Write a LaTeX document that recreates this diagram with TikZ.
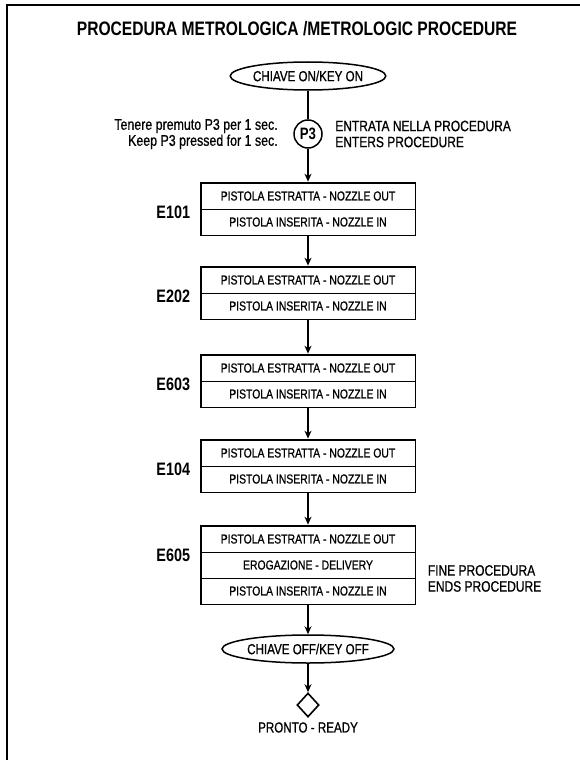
\documentclass[tikz,border=0pt]{standalone}
\usepackage{fontspec}
\setmainfont[FakeStretch=0.8]{Liberation Sans}
\newfontfamily\medfont[FakeStretch=0.8,FakeBold=0.8]{Liberation Sans}
\usetikzlibrary{arrows.meta,positioning,shapes.geometric,fit}

\begin{document}
\begin{tikzpicture}[x=1pt,y=-1pt,
    row/.style={draw,line width=0.9pt,minimum width=214pt,minimum height=26pt,inner sep=0pt,
                font=\medfont\fontsize{13}{14}\selectfont},
    boxframe/.style={draw,line width=1.8pt,inner sep=0pt},
    keynode/.style={ellipse,draw,line width=1.5pt,minimum width=154pt,minimum height=28pt,
                    inner sep=0pt,font=\medfont\fontsize{14.5}{16}\selectfont},
    elabel/.style={anchor=east,font=\bfseries\fontsize{18}{20}\selectfont},
    note/.style={font=\medfont\fontsize{15}{16}\selectfont},
    flow/.style={-{Stealth[length=8pt,width=7pt]},line width=1.5pt}]
  \useasboundingbox (0,0) rectangle (580,760);
  % frame of the page
  \draw[line width=2pt] (7,760) -- (7,5) -- (580,5);

  \node[font=\bfseries\fontsize{19.5}{22}\selectfont] (title) at (297,29)
    {PROCEDURA METROLOGICA /METROLOGIC PROCEDURE};

  \node[keynode] (keyon) at (308,76) {CHIAVE ON/KEY ON};
  \node[circle,draw,line width=1.5pt,minimum size=28pt,inner sep=0pt,
        font=\bfseries\fontsize{16.5}{18}\selectfont] (p3) at (308,134) {P3};
  \node[note,align=right,anchor=east,font=\medfont\fontsize{15.5}{16}\selectfont] (hold)
    at ([xshift=-12pt]p3.west) {Tenere premuto P3 per 1 sec.\\Keep P3 pressed for 1 sec.};
  \node[note,align=left,anchor=west] (enter) at ([xshift=9pt]p3.east)
    {ENTRATA NELLA PROCEDURA\\ENTERS PROCEDURE};

  % the four nozzle out / nozzle in checks
  \foreach \lab/\top [count=\i] in {E101/183,E202/267,E603/355,E104/440} {
    \node[row] (out\i) at (308,\top+13) {PISTOLA ESTRATTA - NOZZLE OUT};
    \node[row] (in\i) at (308,\top+39) {PISTOLA INSERITA - NOZZLE IN};
    \node[boxframe,fit=(out\i)(in\i)] (box\i) {};
    \node[elabel] (lab\i) at ([xshift=-6pt,yshift=-3pt]box\i.west |- out\i.south) {\lab};
  }

  % last check, with delivery
  \node[row] (out5) at (308,539) {PISTOLA ESTRATTA - NOZZLE OUT};
  \node[row] (del5) at (308,565) {EROGAZIONE - DELIVERY};
  \node[row] (in5) at (308,591) {PISTOLA INSERITA - NOZZLE IN};
  \node[boxframe,fit=(out5)(del5)(in5)] (box5) {};
  \node[elabel] (lab5) at ([xshift=-6pt,yshift=-3pt]box5.west |- out5.south) {E605};
  \node[note,align=left,anchor=west] (fine) at ([xshift=8pt]box5.east |- del5.south)
    {FINE PROCEDURA\\ENDS PROCEDURE};

  \node[keynode] (keyoff) at (308,649) {CHIAVE OFF/KEY OFF};
  \node[diamond,draw,line width=1.6pt,minimum width=22pt,minimum height=24pt,inner sep=0pt]
    (ready) at (308,705) {};
  \node[note,font=\medfont\fontsize{14.5}{16}\selectfont,below=1pt of ready] (readytxt) {PRONTO - READY};

  \draw[line width=1.5pt] (keyon) -- (p3);
  \draw[flow] (p3) -- (box1);
  \draw[flow] (box1) -- (box2);
  \draw[flow] (box2) -- (box3);
  \draw[flow] (box3) -- (box4);
  \draw[flow] (box4) -- (box5);
  \draw[flow] (box5) -- (keyoff);
  \draw[flow] (keyoff) -- (ready);
\end{tikzpicture}
\end{document}
